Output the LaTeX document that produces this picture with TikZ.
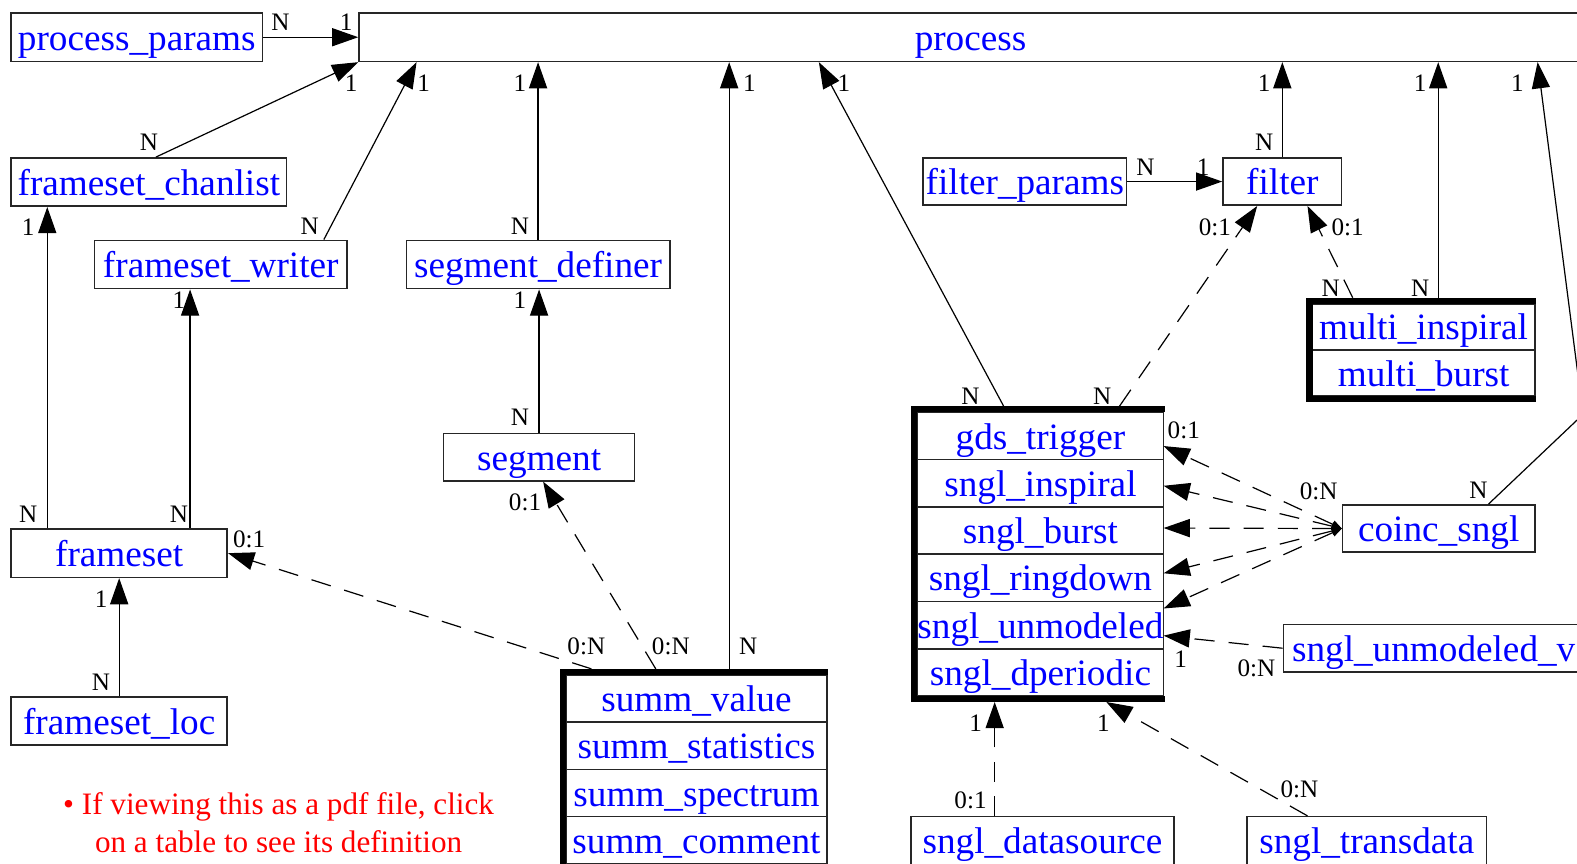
\documentclass[tikz,border=0pt]{standalone}
\usepackage{fontspec}
\setmainfont{Liberation Serif}
\usetikzlibrary{arrows.meta, positioning, calc}
\newcommand{\tblfont}{\fontsize{18.5}{22}\selectfont}
\newcommand{\cardfont}{\fontsize{12.5}{14}\selectfont}
\newcommand{\notefont}{\fontsize{15.5}{18.5}\selectfont}

\begin{document}
\begin{tikzpicture}[x=0.5pt, y=-0.5pt]
    % Block styles
    \tikzstyle{entity} = [rectangle, draw=black!85, line width=0.8pt, text=blue, font=\tblfont, inner sep=0pt, text height=14pt, text depth=1pt, minimum height=24pt]
    \tikzstyle{tbl_row} = [entity, outer sep=0pt, minimum height=23.5pt]
    \tikzstyle{tbl_frame} = [line width=3pt, black]
    \tikzstyle{card} = [font=\cardfont, inner sep=0pt]
    \tikzstyle{link} = [draw, line width=0.6pt, -{Triangle[length=13pt, width=9pt]}]
    \tikzstyle{link_dashed} = [link, dash pattern=on 10pt off 7pt]
    \tikzstyle{link_fan} = [link_dashed, {Triangle[length=5pt, width=4pt]}-{Triangle[length=13pt, width=9pt]}]
    \useasboundingbox (0,0) rectangle (1568,859);
    \clip (0,0) rectangle (1568,859);
    % Tables
    \node[entity, minimum width=125pt] at (136,37) (pparams) {process\_params};
    \node[entity, minimum width=608pt] at (965,37) (process) {process};
    \node[entity, minimum width=137pt] at (148,181) (fschan) {frameset\_chanlist};
    \node[entity, minimum width=125.5pt] at (219.5,263) (fswriter) {frameset\_writer};
    \node[entity, minimum width=131pt] at (535,263) (segdef) {segment\_definer};
    \node[entity, minimum width=95pt, minimum height=23.5pt] at (536,454.5) (segment) {segment};
    \node[entity, minimum width=107.5pt] at (118.5,550) (frameset) {frameset};
    \node[entity, minimum width=107.5pt] at (118.5,717) (fsloc) {frameset\_loc};
    \node[entity, minimum width=101pt, minimum height=23.5pt] at (1019,180.5) (fparams) {filter\_params};
    \node[entity, minimum width=59pt, minimum height=23.5pt] at (1275,180.5) (filter) {filter};
    \node[entity, minimum width=95.5pt, minimum height=23.5pt] at (1430.5,525.5) (coinc) {coinc\_sngl};
    \node[entity, minimum width=149.5pt, minimum height=23.5pt] at (1425.5,644.5) (sunmodv) {sngl\_unmodeled\_v};
    \node[entity, minimum width=130.5pt] at (1036.5,836) (sdsrc) {sngl\_datasource};
    \node[entity, minimum width=119pt] at (1359,836) (strans) {sngl\_transdata};
    % Grouped tables
    \node[tbl_row, minimum width=110.5pt, minimum height=23pt] at (1415.5,325) (minsp) {multi\_inspiral};
    \node[tbl_row, minimum width=110.5pt, minimum height=23pt, below=0pt of minsp] (mburst) {multi\_burst};
    \node[tbl_row, minimum width=122.5pt] at (1034.5,433.5) (gtrig) {gds\_trigger};
    \node[tbl_row, minimum width=122.5pt, below=0pt of gtrig] (sinsp) {sngl\_inspiral};
    \node[tbl_row, minimum width=122.5pt, below=0pt of sinsp] (sburst) {sngl\_burst};
    \node[tbl_row, minimum width=122.5pt, below=0pt of sburst] (sring) {sngl\_ringdown};
    \node[tbl_row, minimum width=122.5pt, below=0pt of sring] (sunmod) {sngl\_unmodeled};
    \node[tbl_row, minimum width=122.5pt, below=0pt of sunmod] (sdper) {sngl\_dperiodic};
    \node[tbl_row, minimum width=129.5pt] at (692.5,694.5) (sval) {summ\_value};
    \node[tbl_row, minimum width=129.5pt, below=0pt of sval] (sstat) {summ\_statistics};
    \node[tbl_row, minimum width=129.5pt, below=0pt of sstat] (sspec) {summ\_spectrum};
    \node[tbl_row, minimum width=129.5pt, below=0pt of sspec] (scomm) {summ\_comment};
    \draw[tbl_frame] ($(minsp.north east)+(1,-3)$) -- ($(minsp.north west)+(-3,-3)$) -- ($(mburst.south west)+(-3,3)$) -- ($(mburst.south east)+(1,3)$);
    \draw[tbl_frame] ($(gtrig.north east)+(1,-3)$) -- ($(gtrig.north west)+(-3,-3)$) -- ($(sdper.south west)+(-3,3)$) -- ($(sdper.south east)+(1,3)$);
    \draw[tbl_frame] ($(sval.north east)+(1,-3)$) -- ($(sval.north west)+(-3,-3)$) -- ($(scomm.south west)+(-3,3)$) -- ($(scomm.south east)+(1,3)$);
    % Note
    \node[font=\notefont, text=red, align=center] at (277,818) (note) {\textbullet\ If viewing this as a pdf file, click\\on a table to see its definition};
    % Ports
    \coordinate (sv_proc) at ($(sval.north)+(32.5,-6)$);
    \coordinate (sv_seg) at ($(sval.north)+(-40.5,-6)$);
    \coordinate (sv_fset) at ($(sval.north)+(-104.5,-6)$);
    \coordinate (gt_proc) at ($(gtrig.north)+(-36.5,-6)$);
    \coordinate (gt_filt) at ($(gtrig.north)+(78.5,-6)$);
    \coordinate (mi_proc) at ($(minsp.north)+(14.5,-6)$);
    \coordinate (mi_filt) at ($(minsp.north)+(-70.5,-6)$);
    \coordinate (fs_chan) at ($(frameset.north)+(-71.5,0)$);
    \coordinate (fs_writ) at ($(frameset.north)+(70.5,0)$);
    \coordinate (bend) at (1574,412);
    % Connections
    \draw[link] (pparams) -- node[card, at start, shift={(17,-15)}] {N} node[card, at end, shift={(-12,-15)}] {1} (process);
    \draw[link] ($(fschan.north)+(7,0)$) -- node[card, at start, shift={(-7,-15)}] {N} node[card, at end, shift={(-7,21)}] {1} (process.south west);
    \draw[link] ($(fswriter.north)+(102.5,0)$) -- node[card, at start, shift={(-14,-13)}] {N} node[card, at end, shift={(7,21)}] {1} ($(process.south west)+(58,0)$);
    \draw[link] (segdef.north) -- node[card, at start, shift={(-18,-13)}] {N} node[card, at end, shift={(-18,21)}] {1} (segdef.north |- process.south);
    \draw[link] (sv_proc) -- node[card, at start, shift={(19,-22)}] {N} node[card, at end, shift={(20,21)}] {1} (sv_proc |- process.south);
    \draw[link] (gt_proc) -- node[card, at start, shift={(-33,-10)}] {N} node[card, at end, shift={(25,21)}] {1} ($(process.south west)+(458,0)$);
    \draw[link] (fparams) -- node[card, at start, shift={(18,-14)}] {N} node[card, at end, shift={(-19,-14)}] {1} (filter);
    \draw[link] (filter.north) -- node[card, at start, shift={(-18,-15)}] {N} node[card, at end, shift={(-18,21)}] {1} (filter.north |- process.south);
    \draw[link] (mi_proc) -- node[card, at start, shift={(-18,-9)}] {N} node[card, at end, shift={(-18,21)}] {1} (mi_proc |- process.south);
    \draw[link_dashed] (mi_filt) -- node[card, at start, shift={(-22,-9)}] {N} node[card, at end, shift={(40,21)}] {0:1} ($(filter.south)+(25,0)$);
    \draw[link_dashed] (gt_filt) -- node[card, at start, shift={(-17,-10)}] {N} node[card, at end, shift={(-42,21)}] {0:1} ($(filter.south)+(-25,0)$);
    \draw[link] ($(coinc.north)+(49.5,0)$) -- node[card, at start, shift={(-10,-14)}] {N} (bend) -- node[card, at end, shift={(-20,21)}] {1} ($(process.south east)+(-45,0)$);
    \draw[link_fan] (coinc.west) -- node[card, at start, shift={(-23,-37)}] {0:N} node[card, at end, shift={(20,-16)}] {0:1} ($(gtrig.east)+(0,10)$);
    \foreach \tbl/\dy in {sinsp/2.5, sburst/-2.5, sring/-4.5, sunmod/-16.5}
        \draw[link_fan] (coinc.west) -- ($(\tbl.east)+(0,\dy)$);
    \draw[link_dashed] (sunmodv.west) -- node[card, at start, shift={(-26,20)}] {0:N} node[card, at end, shift={(17,23)}] {1} ($(sunmod.east)+(0,10.5)$);
    \draw[link_dashed] ($(sdsrc.north)+(-47.5,0)$) -- node[card, at start, shift={(-24,-15)}] {0:1} node[card, at end, shift={(-19,21)}] {1} ($(sdper.south)+(-45.5,6)$);
    \draw[link_dashed] ($(strans.north)+(-59,0)$) -- node[card, at start, shift={(-8,-26)}] {0:N} node[card, at end, shift={(-3,21)}] {1} ($(sdper.south)+(65.5,6)$);
    \draw[link_dashed] (sv_fset) -- node[card, at start, shift={(-5,-22)}] {0:N} node[card, at end, shift={(21,-14)}] {0:1} (frameset.east);
    \draw[link_dashed] (sv_seg) -- node[card, at start, shift={(15,-22)}] {0:N} node[card, at end, shift={(-18,21)}] {0:1} ($(segment.south)+(4,0)$);
    \draw[link] (segment.north) -- node[card, at start, shift={(-19,-15)}] {N} node[card, at end, shift={(-19,11)}] {1} (segment.north |- segdef.south);
    \draw[link] (fs_chan) -- node[card, at start, shift={(-19,-14)}] {N} node[card, at end, shift={(-19,20)}] {1} (fs_chan |- fschan.south);
    \draw[link] (fs_writ) -- node[card, at start, shift={(-11,-14)}] {N} node[card, at end, shift={(-11,11)}] {1} (fs_writ |- fswriter.south);
    \draw[link] (fsloc) -- node[card, at start, shift={(-18,-14)}] {N} node[card, at end, shift={(-18,21)}] {1} (frameset);
\end{tikzpicture}
\end{document}
